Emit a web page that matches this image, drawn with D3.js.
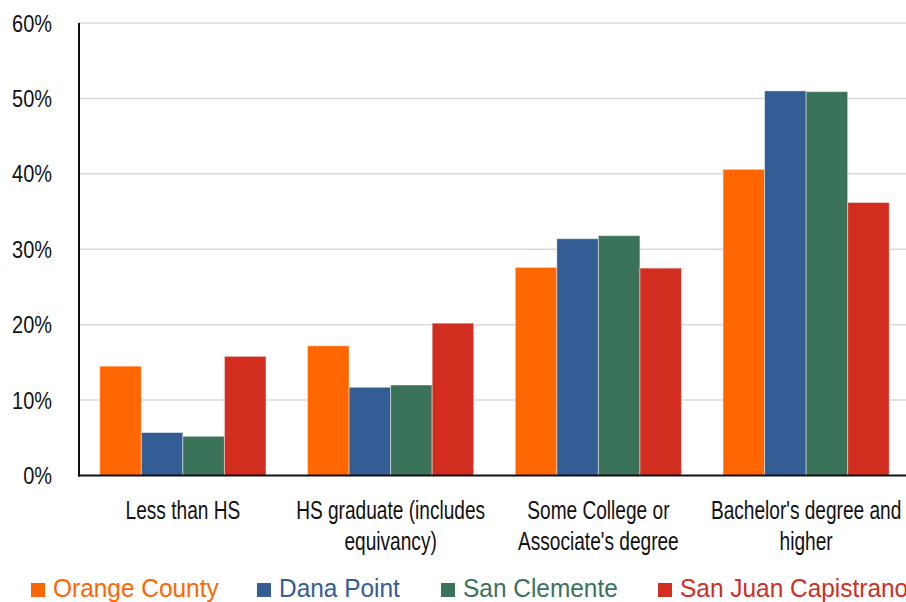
<!DOCTYPE html>
<html>
<head>
<meta charset="utf-8">
<script src="https://cdn.jsdelivr.net/npm/d3@7"></script>
<style>
  html, body { margin: 0; padding: 0; background: #fff; }
  svg { display: block; }
  text { font-family: "Liberation Sans", Arial, sans-serif; }
</style>
</head>
<body>
<svg id="chart" width="906" height="602"></svg>
<script>
// Educational attainment by area (share of population)
const categories = [
  "Less than HS",
  "HS graduate (includes equivancy)",
  "Some College or Associate's degree",
  "Bachelor's degree and higher"
];
const categoryLines = [
  ["Less than HS"],
  ["HS graduate (includes", "equivancy)"],
  ["Some College or", "Associate's degree"],
  ["Bachelor's degree and", "higher"]
];
const seriesNames = ["Orange County", "Dana Point", "San Clemente", "San Juan Capistrano"];
const orangeCounty      = [14.5, 17.2, 27.6, 40.6];
const danaPoint         = [5.7, 11.7, 31.4, 51.0];
const sanClemente       = [5.2, 12.0, 31.8, 50.9];
const sanJuanCapistrano = [15.8, 20.2, 27.5, 36.2];
const yTicks = [0, 10, 20, 30, 40, 50, 60];
const colors = ["#FF6600", "#345D96", "#3B735A", "#D12E1F"];

const seriesValues = [orangeCounty, danaPoint, sanClemente, sanJuanCapistrano];

const svg = d3.select("#chart");
const margin = { left: 79, top: 23, bottom: 475.5, right: 910 };

const x = d3.scaleBand()
  .domain(categories)
  .range([margin.left, margin.right])
  .paddingInner(0.2)
  .paddingOuter(0.1);

const xSub = d3.scaleBand()
  .domain(seriesNames)
  .range([0, x.bandwidth()])
  .padding(0);

const y = d3.scaleLinear()
  .domain([0, 60])
  .range([margin.bottom, margin.top]);

// Condensed text: draw at a point with a horizontal squeeze
function condensedText(parent, px, py, sx, str, size, anchor, fill) {
  const g = parent.append("g")
    .attr("transform", `translate(${px},${py}) scale(${sx},1)`);
  return g.append("text")
    .attr("x", 0).attr("y", 0)
    .attr("font-size", size)
    .attr("text-anchor", anchor)
    .attr("fill", fill)
    .text(str);
}

// Gridlines
svg.append("g")
  .selectAll("line")
  .data(yTicks.filter(d => d > 0))
  .join("line")
  .attr("x1", margin.left)
  .attr("x2", 906)
  .attr("y1", d => y(d))
  .attr("y2", d => y(d))
  .attr("stroke", "#d9d9d9")
  .attr("stroke-width", 1.5);

// Y tick labels
const yLabels = svg.append("g");
yTicks.forEach(t => {
  condensedText(yLabels, 52, y(t) + 8.5, 0.85, t + "%", 23.5, "end", "#111");
});

// Bars
const groups = svg.append("g")
  .selectAll("g")
  .data(categories)
  .join("g")
  .attr("transform", d => `translate(${x(d)},0)`);

groups.selectAll("rect")
  .data((d, i) => seriesNames.map((s, j) => ({ s, j, v: seriesValues[j][i] })))
  .join("rect")
  .attr("x", d => xSub(d.s))
  .attr("width", xSub.bandwidth())
  .attr("y", d => y(d.v))
  .attr("height", d => y(0) - y(d.v))
  .attr("fill", d => colors[d.j])
  .attr("stroke", "rgba(255,255,255,0.45)")
  .attr("stroke-width", 1);

// Axis lines
svg.append("line")
  .attr("x1", margin.left).attr("x2", margin.left)
  .attr("y1", y(60)).attr("y2", y(0) + 1)
  .attr("stroke", "#111").attr("stroke-width", 2);
svg.append("line")
  .attr("x1", margin.left - 1).attr("x2", 906)
  .attr("y1", y(0)).attr("y2", y(0))
  .attr("stroke", "#111").attr("stroke-width", 2);

// Category labels
const catGroup = svg.append("g");
categories.forEach((c, i) => {
  const cx = x(c) + x.bandwidth() / 2;
  categoryLines[i].forEach((line, k) => {
    condensedText(catGroup, cx, 519 + k * 31, 0.735, line, 26, "middle", "#111");
  });
});

// Legend
const legendX = [31, 257, 441, 658];
const legendG = svg.append("g");
seriesNames.forEach((name, i) => {
  legendG.append("rect")
    .attr("x", legendX[i]).attr("y", 583)
    .attr("width", 14).attr("height", 14)
    .attr("fill", colors[i]);
  condensedText(legendG, legendX[i] + 22, 597, 0.94, name, 26, "start", colors[i]);
});
</script>
</body>
</html>
